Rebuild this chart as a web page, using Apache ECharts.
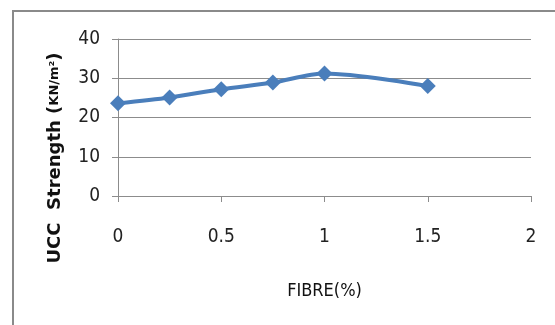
<!DOCTYPE html>
<html>
<head>
<meta charset="utf-8">
<script src="https://cdn.jsdelivr.net/npm/echarts@6/dist/echarts.min.js"></script>
<style>
  html, body { margin: 0; padding: 0; background: #fff; }
  #chart { width: 555px; height: 325px; }
</style>
</head>
<body>
<div id="chart"></div>
<script>
// Fibre content (%) and unconfined compressive strength
const fibrePct = [0, 0.25, 0.5, 0.75, 1, 1.5];
const uccStrength = [23.6, 25.1, 27.2, 28.9, 31.2, 28.0];
const yTicks = { min: 0, max: 40, step: 10 };
const xTicks = { min: 0, max: 2, step: 0.5 };

const FONT = '"Liberation Sans Narrow", "DejaVu Sans Condensed", "Open Sans", sans-serif';
const chart = echarts.init(document.getElementById('chart'), null, { renderer: 'canvas' });

chart.setOption({
  animation: false,
  backgroundColor: '#fff',
  grid: { left: 118, top: 39, right: 24, bottom: 129, containLabel: false },
  xAxis: {
    type: 'value',
    min: xTicks.min, max: xTicks.max, interval: xTicks.step,
    axisLine: { show: true, lineStyle: { color: '#8c8c8c', width: 1 } },
    axisTick: { show: true, length: 6, lineStyle: { color: '#8c8c8c' } },
    splitLine: { show: false },
    axisLabel: { color: '#222', fontFamily: FONT, fontSize: 19, margin: 32 },
    name: 'FIBRE(%)',
    nameLocation: 'middle',
    nameGap: 86,
    nameTextStyle: { color: '#111', fontFamily: FONT, fontSize: 18 }
  },
  yAxis: {
    type: 'value',
    min: yTicks.min, max: yTicks.max, interval: yTicks.step,
    axisLine: { show: true, lineStyle: { color: '#8c8c8c', width: 1 } },
    axisTick: { show: true, length: 6, lineStyle: { color: '#8c8c8c' } },
    splitLine: { show: true, lineStyle: { color: '#8c8c8c', width: 1 } },
    axisLabel: { color: '#222', fontFamily: FONT, fontSize: 19, margin: 18 }
  },
  graphic: [
    {
      type: 'rect',
      shape: { x: 13, y: 11, width: 600, height: 400 },
      style: { fill: 'none', stroke: '#8a8a8a', lineWidth: 2 },
      silent: true,
      z: -1
    },
    {
      type: 'text',
      x: 55, y: 158,
      rotation: Math.PI / 2,
      style: {
        text: '{a|UCC  Strength (}{b|KN/m²}{a|)}',
        rich: {
          a: { fontFamily: '"DejaVu Sans", sans-serif', fontWeight: 'bold', fontSize: 18, fill: '#111' },
          b: { fontFamily: '"DejaVu Sans", sans-serif', fontWeight: 'bold', fontSize: 13, fill: '#111' }
        },
        align: 'center',
        verticalAlign: 'middle'
      }
    }
  ],
  series: [{
    type: 'line',
    data: fibrePct.map((x, i) => [x, uccStrength[i]]),
    smooth: 0.3,
    symbol: 'diamond',
    symbolSize: 16,
    lineStyle: { color: '#4a7ebb', width: 4 },
    itemStyle: { color: '#4a7ebb' }
  }]
});
</script>
</body>
</html>
